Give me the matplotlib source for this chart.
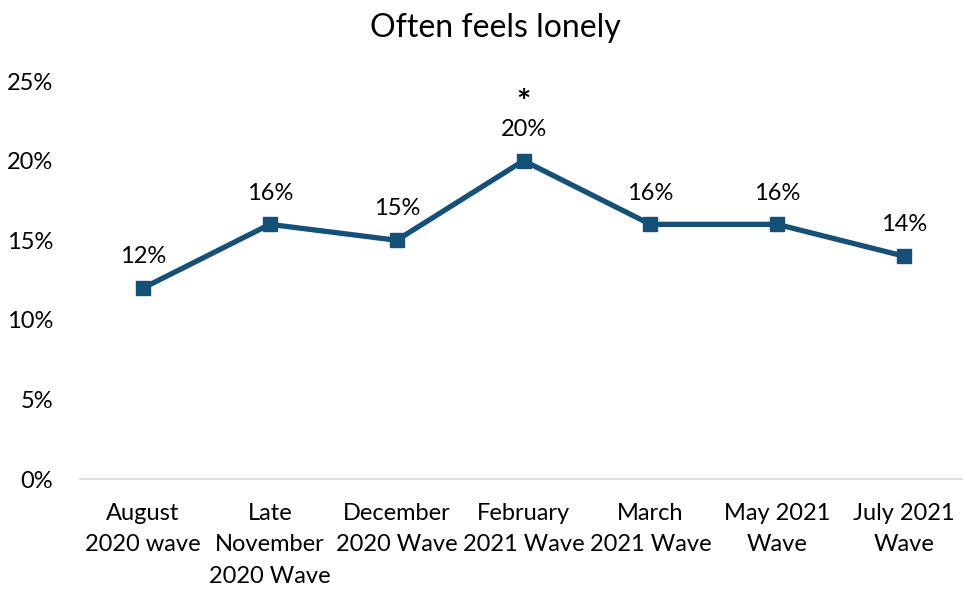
import matplotlib
matplotlib.use("Agg")
import matplotlib.pyplot as plt

categories = ["August\n2020 wave", "Late\nNovember\n2020 Wave", "December\n2020 Wave",
              "February\n2021 Wave", "March\n2021 Wave", "May 2021\nWave", "July 2021\nWave"]
values = [12, 16, 15, 20, 16, 16, 14]
value_labels = ["12%", "16%", "15%", "20%", "16%", "16%", "14%"]
significant = [False, False, False, True, False, False, False]
yticks = [0, 5, 10, 15, 20, 25]
ytick_labels = ["0%", "5%", "10%", "15%", "20%", "25%"]

plt.rcParams['font.family'] = ['Lato', 'DejaVu Sans']
color = "#155079"

fig = plt.figure(figsize=(9.63, 5.90), dpi=100)
ax = fig.add_axes([0.0827, 0.188, 0.922, 0.6746])
x = list(range(len(categories)))
ax.plot(x, values, color=color, lw=3.8, marker='s', markersize=10, solid_joinstyle='miter')
ax.set_xlim(-0.5, len(categories) - 0.5)
ax.set_ylim(0, 25)
ax.set_yticks(yticks)
ax.set_yticklabels(ytick_labels, fontsize=17)
ax.set_xticks(x)
ax.set_xticklabels(categories, fontsize=17, linespacing=1.62, va='top')
ax.tick_params(axis='both', length=0)
ax.tick_params(axis='x', pad=17)
ax.tick_params(axis='y', pad=19)
for s in ['top', 'right', 'left']:
    ax.spines[s].set_visible(False)
ax.spines['bottom'].set_color('#d9d9d9')
ax.spines['bottom'].set_linewidth(1.2)

for xi, v, lab, sig in zip(x, values, value_labels, significant):
    ax.annotate(lab, (xi, v), xytext=(0, 15), textcoords='offset points',
                ha='center', va='bottom', fontsize=17)
    if sig:
        ax.annotate("*", (xi, v), xytext=(0, 31), textcoords='offset points',
                    ha='center', va='bottom', fontsize=24, fontweight='bold')

fig.text(0.514, 0.952, "Often feels lonely", ha='center', va='center', fontsize=23)
fig.savefig("out.png", dpi=100)
